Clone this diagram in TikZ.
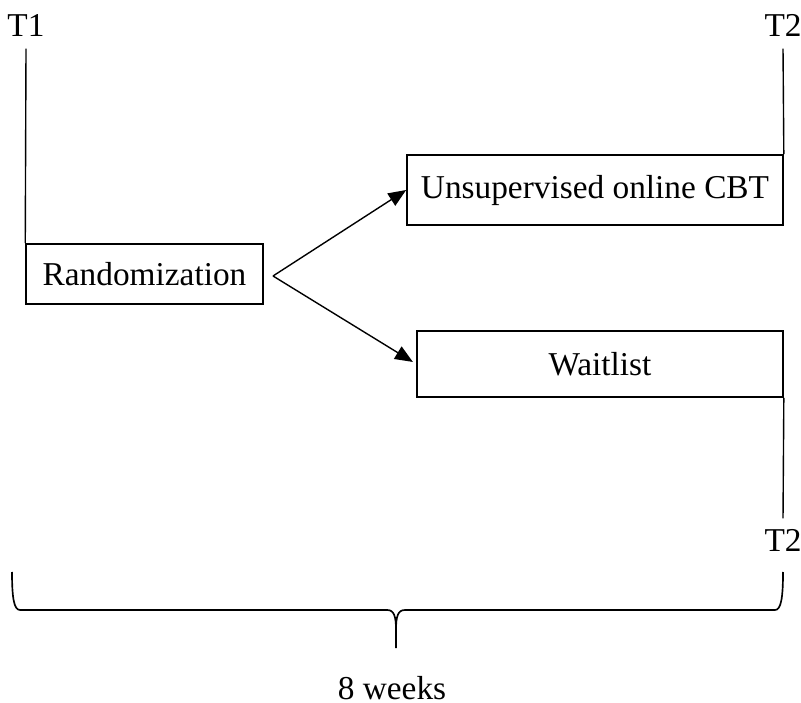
\documentclass[tikz,border=0pt]{standalone}
\usepackage{fontspec}
\setmainfont{Liberation Serif}
\usepackage{tikz}
\usetikzlibrary{arrows.meta,positioning}
\definecolor{cline}{HTML}{000000}
\tikzset{
  box/.style={draw=cline, line width=0.55pt, rectangle, inner sep=2pt, font=\fontsize{12}{14}\selectfont},
  tlab/.style={anchor=base, inner sep=4pt, font=\fontsize{12}{14}\selectfont},
  link/.style={draw=cline, line width=0.5pt},
  pre/.style={link, -{Triangle[length=6.4pt,width=5.2pt]}},
  brc/.style={draw=cline, line width=0.6pt},
}
\begin{document}
\begin{tikzpicture}[x=0.36pt,y=-0.36pt]
\useasboundingbox (0,0) rectangle (801,703);
% boxes
\node[box, minimum width=85.3pt, minimum height=21.6pt] (rand) at (144.5,274) {Randomization};
\node[box, minimum width=135.4pt, minimum height=25.2pt] (cbt) at (595,190) {Unsupervised online CBT};
\node[box, minimum width=131.8pt, minimum height=23.8pt] (wait) at (600,364) {Waitlist};
% time points
\node[tlab] (t1) at (26,37) {T1};
\node[tlab] (t2a) at (783,37) {T2};
\node[tlab] (t2b) at (783,552) {T2};
\draw[link] (t1.south) -- (rand.north west);
\draw[link] (t2a.south) -- (cbt.north east);
\draw[link] (wait.south east) -- (t2b.north);
% randomization arrows
\coordinate (split) at (273,276);
\draw[pre] (split) -- (cbt.west);
\draw[pre, shorten >=1.4pt] (split) -- (wait.west);
% brace
\coordinate (bl) at (12,572);
\coordinate (br) at (783,572);
\coordinate (tip) at (396,648);
\draw[brc] (bl) .. controls (12,598) and (14,610) .. (20,610) -- (387,610)
  .. controls (394,610) and (396,616) .. (396,630) -- (tip);
\draw[brc] (br) .. controls (783,598) and (781,610) .. (775,610) -- (405,610)
  .. controls (398,610) and (396,616) .. (396,630);
\node[tlab] (weeks) at (392,699) {8 weeks};
\end{tikzpicture}
\end{document}
